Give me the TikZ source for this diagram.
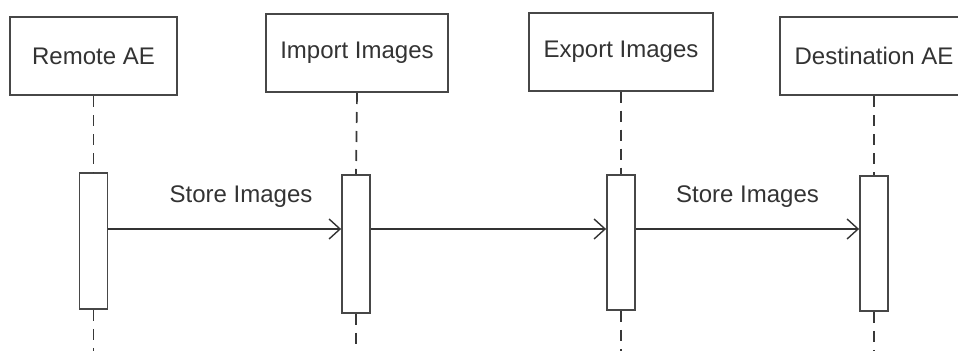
\documentclass[tikz,border=0pt]{standalone}
\usepackage{fontspec}
\setmainfont{Liberation Sans}
\usetikzlibrary{arrows.meta}
\definecolor{boxline}{gray}{0.28}
\definecolor{txtcol}{gray}{0.20}
\definecolor{lifecol}{gray}{0.22}
\tikzset{
  actor/.style={draw=boxline,line width=2pt,fill=white,minimum height=78pt,inner sep=0pt,font=\fontsize{24}{28}\selectfont,text=txtcol},
  actbar/.style={draw=boxline,line width=1.8pt,fill=white,minimum width=28pt,inner sep=0pt},
  lifeln/.style={draw=lifecol,line width=1.7pt,dash pattern=on 11pt off 8pt},
  msg/.style={draw=black!80,line width=1.4pt,-{Straight Barb[length=11pt,width=20pt,line width=1.4pt]}},
  msglab/.style={font=\fontsize{24}{28}\selectfont,text=txtcol},
}
\begin{document}
\begin{tikzpicture}[x=1pt,y=1pt]
  \useasboundingbox (0,0) rectangle (958,-351);
  % participants
  \node[actor,minimum width=167pt] (remote) at (93.5,-56) {Remote AE};
  \node[actor,minimum width=182pt] (import) at (357,-53) {Import Images};
  \node[actor,minimum width=184pt] (export) at (621,-51.5) {Export Images};
  \node[actor,minimum width=188pt] (dest) at (874,-56) {Destination AE};
  % activation bars
  \node[actbar,minimum height=136pt] (barA) at (93.5,-241) {};
  \node[actbar,minimum height=138pt] (barB) at (356,-244) {};
  \node[actbar,minimum height=135pt] (barC) at (621,-242.5) {};
  \node[actbar,minimum height=135pt] (barD) at (874,-243.5) {};
  % lifeline ends
  \coordinate (endA) at (93.5,-351);
  \coordinate (endB) at (356,-351);
  \coordinate (endC) at (621,-351);
  \coordinate (endD) at (874,-351);
  \coordinate (msgy) at (0,-229);
  \draw[lifeln] (remote.south) -- (barA.north);
  \draw[lifeln] (barA.south) -- (endA);
  \draw[lifeln] (import.south) -- (barB.north);
  \draw[lifeln] (barB.south) -- (endB);
  \draw[lifeln] (export.south) -- (barC.north);
  \draw[lifeln] (barC.south) -- (endC);
  \draw[lifeln] (dest.south) -- (barD.north);
  \draw[lifeln] (barD.south) -- (endD);
  % messages
  \draw[msg] (barA.east |- msgy) -- node[msglab,pos=0.57,above=17pt] (lab1) {Store Images} (barB.west |- msgy);
  \draw[msg] (barB.east |- msgy) -- (barC.west |- msgy);
  \draw[msg] (barC.east |- msgy) -- node[msglab,above=17pt] (lab2) {Store Images} (barD.west |- msgy);
\end{tikzpicture}
\end{document}
